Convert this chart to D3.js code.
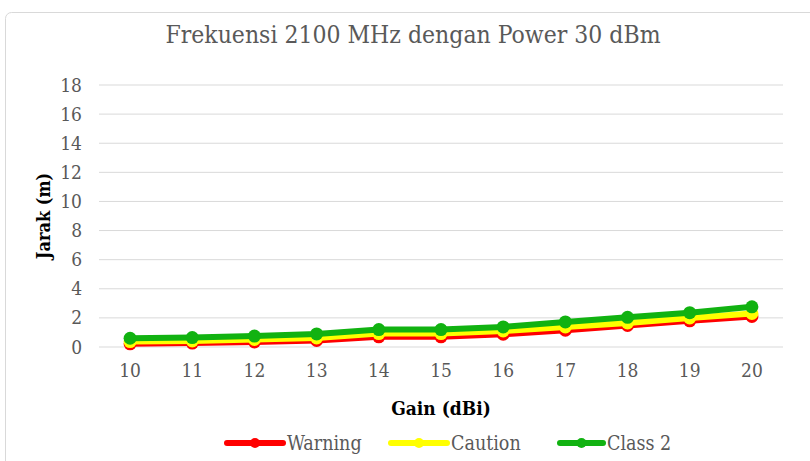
<!DOCTYPE html>
<html>
<head>
<meta charset="utf-8">
<script src="https://cdn.jsdelivr.net/npm/d3@7"></script>
<style>
  body { margin: 0; background: #fff; }
  text { font-family: "DejaVu Serif Condensed", "DejaVu Serif", serif; fill: #595959; }
</style>
</head>
<body>
<div id="chart"></div>
<script>
// data
const gains = [10, 11, 12, 13, 14, 15, 16, 17, 18, 19, 20];
const warning = [0.22, 0.27, 0.35, 0.45, 0.7, 0.7, 0.88, 1.15, 1.48, 1.8, 2.1];
const caution = [0.37, 0.42, 0.52, 0.62, 0.92, 0.92, 1.1, 1.38, 1.65, 2.0, 2.3];
const class2 = [0.6, 0.65, 0.75, 0.9, 1.2, 1.2, 1.38, 1.72, 2.04, 2.36, 2.76];
const yTicks = [0, 2, 4, 6, 8, 10, 12, 14, 16, 18];

const series = [
  { name: "Warning", color: "#ff0000", values: warning },
  { name: "Caution", color: "#ffff00", values: caution },
  { name: "Class 2", color: "#11b211", values: class2 }
];

const WIDTH = 810, HEIGHT = 461;
const margin = { top: 85, right: 27, bottom: 114, left: 99 };
const width = WIDTH - margin.left - margin.right;
const height = HEIGHT - margin.top - margin.bottom;

const root = d3.select("#chart").append("svg")
  .attr("width", WIDTH).attr("height", HEIGHT);

// chart frame
root.append("rect")
  .attr("x", 5.5).attr("y", 12.5)
  .attr("width", 820).attr("height", 470)
  .attr("rx", 6)
  .attr("fill", "#fff").attr("stroke", "#d9d9d9");

root.append("text")
  .attr("x", 413).attr("y", 43)
  .attr("text-anchor", "middle")
  .style("font-size", "24.5px")
  .text("Frekuensi 2100 MHz dengan Power 30 dBm");

const svg = root.append("g")
  .attr("transform", `translate(${margin.left}, ${margin.top})`);

const x = d3.scaleBand().domain(gains).range([0, width]);
const y = d3.scaleLinear().domain([0, 18]).range([height, 0]);

// gridlines
svg.append("g")
  .selectAll("line")
  .data(yTicks)
  .join("line")
  .attr("x1", 0).attr("x2", width)
  .attr("y1", d => y(d)).attr("y2", d => y(d))
  .attr("stroke", "#d9d9d9").attr("stroke-width", 1);

// y axis labels
svg.append("g")
  .call(d3.axisLeft(y).tickValues(yTicks).tickSize(0).tickPadding(17))
  .call(g => g.select(".domain").remove())
  .selectAll("text")
  .style("font-size", "19px")
  .attr("fill", "#595959");

// x axis labels
svg.append("g")
  .attr("transform", `translate(0, ${height})`)
  .call(d3.axisBottom(x).tickSize(0).tickPadding(17))
  .call(g => g.select(".domain").remove())
  .selectAll("text")
  .style("font-size", "19px")
  .attr("fill", "#595959");

// axis titles
root.append("text")
  .attr("transform", "translate(50, 216) rotate(-90)")
  .attr("text-anchor", "middle")
  .style("font-size", "18px").style("font-weight", "bold")
  .style("fill", "#000")
  .text("Jarak (m)");

root.append("text")
  .attr("x", 441).attr("y", 415)
  .attr("text-anchor", "middle")
  .style("font-size", "19px").style("font-weight", "bold")
  .style("fill", "#000")
  .text("Gain (dBi)");

const line = d3.line()
  .x((d, i) => x(gains[i]) + x.bandwidth() / 2)
  .y(d => y(d));

series.forEach(s => {
  svg.append("path")
    .datum(s.values)
    .attr("fill", "none")
    .attr("stroke", s.color)
    .attr("stroke-width", 6)
    .attr("stroke-linejoin", "round")
    .attr("d", line);
  svg.append("g")
    .selectAll("circle")
    .data(s.values)
    .join("circle")
    .attr("cx", (d, i) => x(gains[i]) + x.bandwidth() / 2)
    .attr("cy", d => y(d))
    .attr("r", 6.5)
    .attr("fill", s.color);
});

// legend
const legendX = [227, 391, 560];
const legendW = [56, 56, 43];
const legend = root.append("g");
series.forEach((s, i) => {
  const g = legend.append("g").attr("transform", `translate(${legendX[i]}, 443)`);
  g.append("line")
    .attr("x1", 0).attr("x2", legendW[i])
    .attr("stroke", s.color).attr("stroke-width", 6)
    .attr("stroke-linecap", "round");
  g.append("circle").attr("cx", legendW[i] / 2).attr("r", 5).attr("fill", s.color);
  g.append("text")
    .attr("x", legendW[i] + 4).attr("y", 7)
    .style("font-size", "19.5px")
    .text(s.name);
});
</script>
</body>
</html>
